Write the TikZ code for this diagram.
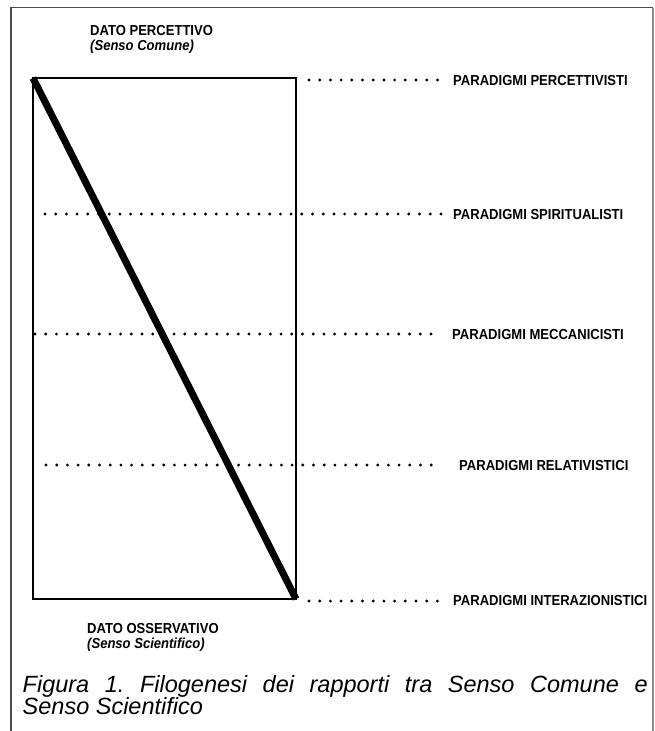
\documentclass[tikz,border=0pt]{standalone}
\usepackage{fontspec}
\setmainfont{Liberation Sans}
\newfontfamily\narrowsans[FakeStretch=0.9]{Liberation Sans}
\frenchspacing
\begin{document}
\begin{tikzpicture}[x=1pt,y=-1pt,
  lbl/.style={anchor=base west,inner sep=0pt,font=\narrowsans\fontsize{14.5}{15}\selectfont\bfseries},
  sublbl/.style={anchor=base west,inner sep=0pt,font=\narrowsans\fontsize{14.5}{15}\selectfont\bfseries\itshape},
  captxt/.style={anchor=base west,inner sep=0pt,font=\fontsize{23.5}{27}\selectfont\itshape},
  dotrow/.style={line width=3.2pt,line cap=round,dash pattern=on 0pt off 10.7pt},
  frame/.style={line width=1.3pt,draw=black!70}]
\useasboundingbox (0,0) rectangle (655,731);
% outer frame
\draw[frame] (11,731) -- (11,7.5) -- (652.5,7.5);
\draw[line width=2pt,draw=black!45] (652.5,7.5) -- (652.5,731);
% main rectangle
\coordinate (tl) at (33,78);
\coordinate (br) at (296,599);
\draw[line width=2.2pt] (tl) rectangle (br);
\draw[line width=7pt] (tl) -- (br);
% top / bottom labels
\node[lbl] (dp) at (90,35) {DATO PERCETTIVO};
\node[sublbl] (sc) at (90,50) {(Senso Comune)};
\node[lbl] (do) at (87,633) {DATO OSSERVATIVO};
\node[sublbl] (ss) at (87,648) {(Senso Scientifico)};
% paradigm labels
\node[lbl] (p1) at (453,85) {PARADIGMI PERCETTIVISTI};
\node[lbl] (p2) at (453,219) {PARADIGMI SPIRITUALISTI};
\node[lbl] (p3) at (452,339) {PARADIGMI MECCANICISTI};
\node[lbl] (p4) at (459,470) {PARADIGMI RELATIVISTICI};
\node[lbl] (p5) at (453,605) {PARADIGMI INTERAZIONISTICI};
% dotted rows
\coordinate (a1) at (309,80);  \coordinate (b1) at (438,80);
\coordinate (a2) at (45,214);  \coordinate (b2) at (442,214);
\coordinate (a3) at (35,334);  \coordinate (b3) at (432,334);
\coordinate (a4) at (46,465);  \coordinate (b4) at (433,465);
\coordinate (a5) at (309,601); \coordinate (b5) at (438,601);
\foreach \i in {1,...,5}{\draw[dotrow] (a\i) -- (b\i);}
% caption
\node[captxt] (c1) at (22.5,692) {\makebox[625pt][s]{Figura 1. Filogenesi dei rapporti tra Senso Comune e}};
\node[captxt] (c2) at (22.5,714) {Senso Scientifico};
\end{tikzpicture}
\end{document}
